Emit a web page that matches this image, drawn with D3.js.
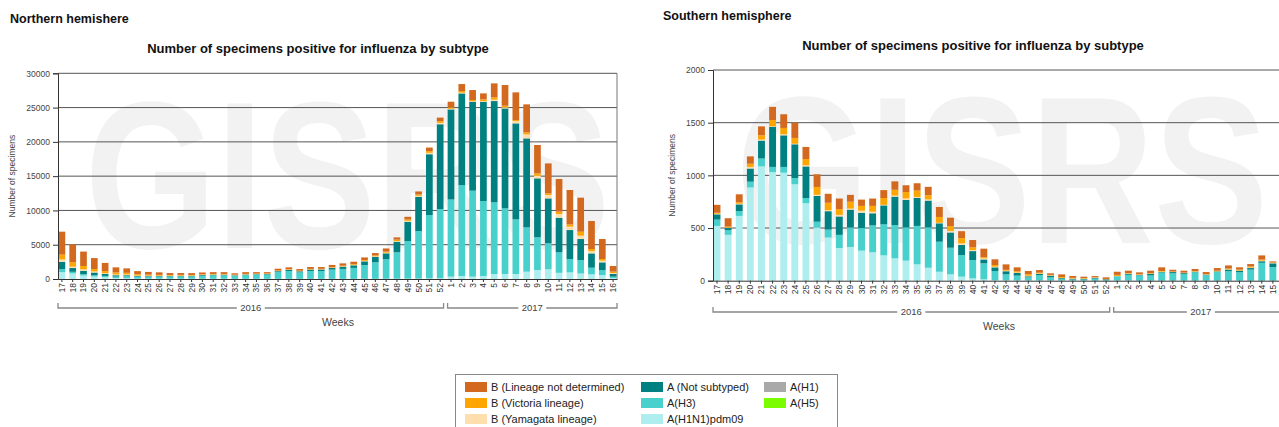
<!DOCTYPE html>
<html>
<head>
<meta charset="utf-8">
<script src="https://cdn.jsdelivr.net/npm/d3@7"></script>
<style>
  body { margin: 0; background: #fff; }
  svg { display: block; font-family: Arial, "Liberation Sans", sans-serif; }
</style>
</head>
<body>
<svg id="chart" width="1279" height="427"></svg>
<script>
// weeks 17..52 of 2016, then 1..16 of 2017
const weeks = ["17","18","19","20","21","22","23","24","25","26","27","28","29","30","31","32","33","34","35","36","37","38","39","40","41","42","43","44","45","46","47","48","49","50","51","52",
  "1","2","3","4","5","6","7","8","9","10","11","12","13","14","15","16"];
const years = ["2016", "2017"];
const yearOfWeek = weeks.map((w, i) => i < 36 ? "2016" : "2017");

const seriesKeys = ["pdm09", "h3", "notSub", "h1", "h5", "yam", "vic", "bnd"];
const seriesNames = {
  bnd: "B (Lineage not determined)", vic: "B (Victoria lineage)", yam: "B (Yamagata lineage)",
  notSub: "A (Not subtyped)", h3: "A(H3)", pdm09: "A(H1N1)pdm09", h1: "A(H1)", h5: "A(H5)"
};
const seriesColors = {
  bnd: "#d2691e", vic: "#ffa500", yam: "#ffdead",
  notSub: "#008080", h3: "#48d1cc", pdm09: "#afeeee", h1: "#a9a9a9", h5: "#7cfc00"
};

// Northern hemisphere
const nhPdm09 = [1000,800,500,350,250,150,100,50,50,50,30,30,30,30,30,30,20,20,20,20,20,20,20,20,20,20,20,20,30,30,30,40,50,50,80,100,
  340,440,340,440,730,730,730,1070,1310,1410,900,970,800,680,580,150];
const nhH3 = [450,250,200,200,200,200,300,300,300,320,350,350,350,450,500,500,450,550,600,620,1000,1150,950,1150,1150,1350,1450,1600,2000,2400,2850,3850,5480,6940,9240,10090,
  11260,13250,12540,10930,10450,9570,7970,6460,4770,3790,2990,1950,1970,970,730,190];
const nhNotSub = [1050,550,500,400,300,200,150,100,80,80,80,90,90,100,100,100,70,80,80,80,120,150,150,200,220,250,320,380,550,800,870,1550,2810,4990,8880,12380,
  13140,13380,12970,14480,14770,14580,14000,12980,8600,6560,5050,4220,3060,2090,1120,390];
const nhH1 = [0,0,0,0,0,0,0,0,0,0,0,0,0,0,0,0,0,0,0,0,0,0,0,0,0,0,0,0,0,0,0,0,0,0,0,0,
  0,0,0,0,0,0,0,0,0,0,0,0,0,0,0,0];
const nhH5 = [0,0,0,0,0,0,0,0,0,0,0,0,0,0,0,0,0,0,0,0,0,0,0,0,0,0,0,0,0,0,0,0,0,0,0,0,
  0,0,0,0,0,0,0,0,0,0,0,0,0,0,0,0];
const nhYam = [350,200,200,150,100,100,100,50,50,30,30,30,30,30,30,30,30,30,30,30,30,40,30,30,30,40,50,60,70,80,90,100,150,150,200,200,
  90,100,80,100,200,150,330,580,390,490,540,490,490,340,250,150];
const nhVic = [700,650,500,350,300,300,250,200,150,120,100,100,90,80,80,80,60,70,60,50,60,70,60,70,70,80,100,110,120,130,150,200,200,200,250,250,
  200,240,170,250,340,240,150,290,340,240,340,340,580,290,240,190];
const nhBnd = [3350,2600,2100,1600,1200,750,650,450,400,370,280,270,270,260,260,260,200,250,210,200,270,270,240,280,260,310,340,350,380,340,470,330,380,440,520,520,
  830,1020,1460,870,2040,3020,4040,4090,4130,4370,4760,5010,4960,4090,2910,830];

// Southern hemisphere
const shPdm09 = [520,435,615,885,1085,1030,1025,915,735,505,410,310,320,285,270,240,212,190,155,123,85,60,38,22,13,5,3,3,2,2,2,2,1,1,0,0,
  2,2,0,0,0,0,0,0,0,0,0,0,0,0,0,0];
const shH3 = [60,45,45,55,75,50,55,60,50,55,75,125,185,215,255,295,316,316,365,383,285,253,206,174,152,87,57,45,30,50,30,12,10,10,20,8,
  38,54,50,50,78,70,62,80,52,82,90,80,105,170,130,8];
const shNotSub = [50,20,65,125,170,380,300,320,300,245,175,175,170,145,115,180,270,260,265,255,175,145,95,85,37,35,30,25,10,12,15,10,8,7,8,6,
  3,10,5,15,5,12,10,5,5,6,15,15,15,15,35,3];
const shH1 = [0,0,0,0,0,0,0,0,0,0,0,0,0,0,0,0,0,0,0,0,0,0,0,0,0,0,0,0,0,0,0,0,0,0,0,0,
  0,0,0,0,0,0,0,0,0,0,0,0,0,0,0,0];
const shH5 = [0,0,0,0,0,0,0,0,0,0,0,0,0,0,0,0,0,0,0,0,0,0,0,0,0,0,0,0,0,0,0,0,0,0,0,0,
  0,0,0,0,0,0,0,0,0,0,0,0,0,0,0,0];
const shYam = [5,3,5,15,10,5,10,5,10,10,10,15,10,20,15,5,10,15,10,10,5,15,15,10,10,6,5,5,5,4,3,3,2,2,2,0,
  2,2,2,2,3,2,2,2,2,2,3,2,5,5,3,0];
const shVic = [10,10,15,30,40,60,60,55,60,75,70,55,65,45,55,65,55,60,60,40,55,45,50,25,10,16,8,12,15,8,5,8,6,5,4,3,
  10,5,4,5,6,3,3,4,3,5,7,8,10,10,5,0];
const shBnd = [75,80,75,70,85,125,130,145,115,120,85,100,65,60,70,75,80,65,70,80,95,80,66,70,82,54,52,37,30,25,15,25,18,13,10,15,
  30,22,18,23,35,17,18,20,20,25,30,22,23,40,10,5];

const chartTitle = "Number of specimens positive for influenza by subtype";

function buildRows(s){
  return weeks.map((w, i) => ({
    week: w, year: yearOfWeek[i],
    pdm09: s.pdm09[i], h3: s.h3[i], notSub: s.notSub[i], h1: s.h1[i], h5: s.h5[i],
    yam: s.yam[i], vic: s.vic[i], bnd: s.bnd[i]
  }));
}

function drawPanel(svg, rows, cfg){
  let g = svg.append("g");

  g.append("text")
    .attr("x", cfg.hemiX).attr("y", cfg.hemiY).attr("dy", "0.35em")
    .attr("font-size", 12.5).attr("font-weight", "bold").attr("fill", "#111")
    .text(cfg.hemiLabel);

  // watermark
  g.append("text")
    .attr("x", cfg.wmX).attr("y", cfg.wmBase)
    .attr("font-size", 210).attr("font-weight", "bold").attr("fill", "#f2f2f2")
    .attr("textLength", cfg.wmLen).attr("lengthAdjust", "spacingAndGlyphs")
    .text("GISRS");

  g.append("text")
    .attr("x", cfg.titleX).attr("y", cfg.titleY).attr("dy", "0.35em")
    .attr("text-anchor", "middle")
    .attr("font-size", 13).attr("font-weight", "bold").attr("fill", "#111")
    .text(chartTitle);

  let x = d3.scaleBand().domain(weeks).range([cfg.x0, cfg.x1])
    .paddingInner(0.38).paddingOuter(0.05);
  let y = d3.scaleLinear().domain([0, cfg.max]).range([cfg.yBottom, cfg.yTop]);

  // gridlines
  let yTicks = d3.range(0, cfg.max + 1, cfg.step);
  g.append("g").selectAll("line").data(yTicks.filter(d => d > 0)).join("line")
    .attr("x1", cfg.x0).attr("x2", cfg.gridRight)
    .attr("y1", d => y(d)).attr("y2", d => y(d))
    .attr("stroke", "#555").attr("stroke-width", 1);
  if(cfg.rightBorder){
    g.append("line").attr("x1", cfg.gridRight).attr("x2", cfg.gridRight)
      .attr("y1", y(cfg.max)).attr("y2", y(0)).attr("stroke", "#777");
  }

  // stacked bars
  let stack = d3.stack().keys(seriesKeys)(rows);
  g.append("g").selectAll("g").data(stack).join("g")
    .attr("fill", d => seriesColors[d.key])
    .selectAll("rect").data(d => d).join("rect")
    .attr("x", d => x(d.data.week))
    .attr("width", x.bandwidth())
    .attr("y", d => y(d[1]))
    .attr("height", d => Math.max(0, y(d[0]) - y(d[1])));

  // y axis
  let yAxis = g.append("g").attr("transform", `translate(${cfg.x0},0)`)
    .call(d3.axisLeft(y).tickValues(yTicks).tickSize(5).tickPadding(3).tickFormat(d3.format("d")));
  yAxis.select(".domain").attr("stroke", "#333");
  yAxis.selectAll(".tick line").attr("stroke", "#333");
  yAxis.selectAll("text").attr("font-size", 8.5).attr("fill", "#444").attr("font-family", null);

  g.append("text")
    .attr("transform", `translate(${cfg.yTitleX},${(cfg.yTop + cfg.yBottom) / 2}) rotate(-90)`)
    .attr("text-anchor", "middle").attr("dy", "0.35em")
    .attr("font-size", 8.5).attr("fill", "#444")
    .text("Number of specimens");

  // x axis
  let xAxis = g.append("g").attr("transform", `translate(0,${cfg.yBottom})`)
    .call(d3.axisBottom(x).tickSize(3).tickSizeOuter(0));
  xAxis.select(".domain").attr("stroke", "#333");
  xAxis.selectAll(".tick line").attr("stroke", "#333");
  xAxis.selectAll("text")
    .attr("font-size", 8.5).attr("fill", "#333").attr("font-family", null)
    .attr("text-anchor", "end")
    .attr("transform", "rotate(-90)")
    .attr("x", -4).attr("y", 0).attr("dy", "0.35em");

  // year brackets
  let center = w => x(w) + x.bandwidth() / 2;
  let mid = (center("52") + center("1")) / 2;
  let spans = [
    {year: years[0], a: cfg.x0, b: mid - 2},
    {year: years[1], a: mid + 2, b: cfg.x1}
  ];
  let br = g.append("g");
  spans.forEach(s => {
    br.append("path")
      .attr("d", `M${s.a},${cfg.bracketY - 5}V${cfg.bracketY}H${s.b}V${cfg.bracketY - 5}`)
      .attr("fill", "none").attr("stroke", "#888").attr("stroke-width", 1.3);
    let cx = (s.a + s.b) / 2;
    br.append("rect").attr("x", cx - 14).attr("y", cfg.bracketY - 6)
      .attr("width", 28).attr("height", 12).attr("fill", "#fff");
    br.append("text").attr("x", cx).attr("y", cfg.bracketY).attr("dy", "0.35em")
      .attr("text-anchor", "middle").attr("font-size", 9.5).attr("fill", "#444")
      .text(s.year);
  });

  g.append("text")
    .attr("x", cfg.weeksX).attr("y", cfg.weeksY).attr("dy", "0.35em")
    .attr("text-anchor", "middle").attr("font-size", 10.5).attr("fill", "#444")
    .text("Weeks");
}

function drawLegend(svg){
  let cols = [["bnd", "vic", "yam"], ["notSub", "h3", "pdm09"], ["h1", "h5"]];
  let colX = [465, 641, 764];
  let lg = svg.append("g");
  lg.append("rect").attr("x", 455.5).attr("y", 374.5).attr("width", 382).attr("height", 60)
    .attr("fill", "#fff").attr("stroke", "#888");
  cols.forEach((col, ci) => {
    col.forEach((key, ri) => {
      let yy = 382 + ri * 16;
      lg.append("rect").attr("x", colX[ci]).attr("y", yy)
        .attr("width", 22).attr("height", 10).attr("fill", seriesColors[key]);
      lg.append("text").attr("x", colX[ci] + 26).attr("y", yy + 5).attr("dy", "0.35em")
        .attr("font-size", 11).attr("fill", "#222").text(seriesNames[key]);
    });
  });
}

let svg = d3.select("#chart");

let nhRows = buildRows({pdm09: nhPdm09, h3: nhH3, notSub: nhNotSub, h1: nhH1, h5: nhH5, yam: nhYam, vic: nhVic, bnd: nhBnd});
let shRows = buildRows({pdm09: shPdm09, h3: shH3, notSub: shNotSub, h1: shH1, h5: shH5, yam: shYam, vic: shVic, bnd: shBnd});

drawPanel(svg, nhRows, {
  hemiLabel: "Northern hemishere", hemiX: 10, hemiY: 19,
  titleX: 318, titleY: 48,
  x0: 58, x1: 617, gridRight: 617, rightBorder: true,
  yTop: 73.3, yBottom: 279, max: 30000, step: 5000,
  yTitleX: 12, bracketY: 308, weeksX: 338, weeksY: 322,
  wmX: 85, wmBase: 248, wmLen: 525
});
drawPanel(svg, shRows, {
  hemiLabel: "Southern hemisphere", hemiX: 663, hemiY: 16,
  titleX: 973, titleY: 45,
  x0: 713, x1: 1288, gridRight: 1279, rightBorder: false,
  yTop: 70, yBottom: 280.7, max: 2000, step: 500,
  yTitleX: 672, bracketY: 312, weeksX: 999, weeksY: 326,
  wmX: 736, wmBase: 243, wmLen: 532
});
drawLegend(svg);
</script>
</body>
</html>
